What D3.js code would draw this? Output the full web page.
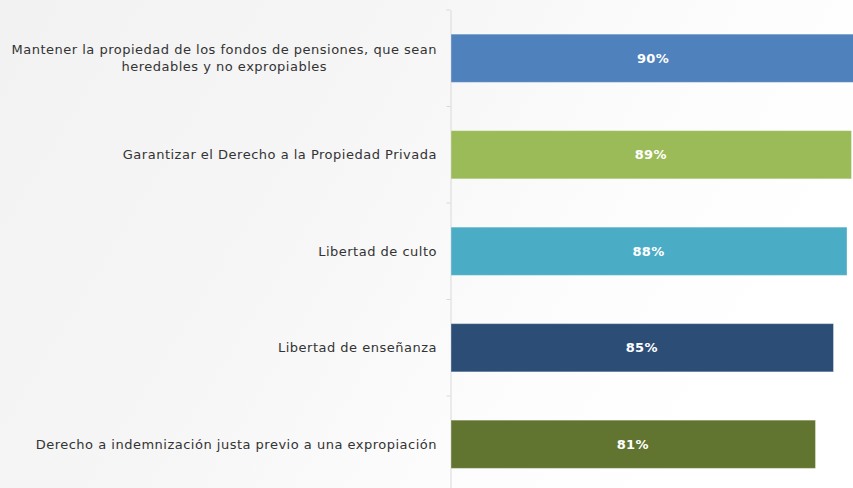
<!DOCTYPE html>
<html>
<head>
<meta charset="utf-8">
<script src="https://cdn.jsdelivr.net/npm/d3@7"></script>
<style>
html,body{margin:0;padding:0;background:#fff;overflow:hidden;}
svg{display:block;}
</style>
</head>
<body>
<svg id="chart" width="853" height="488"></svg>
<script>
const categories = [
  "Mantener la propiedad de los fondos de pensiones, que sean|heredables y no expropiables",
  "Garantizar el Derecho a la Propiedad Privada",
  "Libertad de culto",
  "Libertad de enseñanza",
  "Derecho a indemnización justa previo a una expropiación"
];
const values = [90, 89, 88, 85, 81];
const valueLabels = ["90%", "89%", "88%", "85%", "81%"];
const colors = ["#4f81bd", "#9bbb59", "#4bacc6", "#2c4e76", "#617531"];

const W = 853, H = 488;
const svg = d3.select("#chart");

// background gradient
const defs = svg.append("defs");
const grad = defs.append("linearGradient").attr("id","bg")
  .attr("x1","0").attr("y1","0").attr("x2","1").attr("y2","0.35");
grad.append("stop").attr("offset","0%").attr("stop-color","#f2f2f2");
grad.append("stop").attr("offset","45%").attr("stop-color","#f6f6f6");
grad.append("stop").attr("offset","75%").attr("stop-color","#fcfcfc");
grad.append("stop").attr("offset","100%").attr("stop-color","#ffffff");
svg.append("rect").attr("width",W).attr("height",H).attr("fill","url(#bg)");

const x0 = 450.5;
const x = d3.scaleLinear().domain([0, 100]).range([x0, x0 + 450]);
const y = d3.scaleBand().domain(categories).range([10, 492.5])
  .paddingInner(0.5).paddingOuter(0.25);

// axis
const axis = d3.axisLeft(y).tickSize(0).tickFormat("");
const ag = svg.append("g").attr("transform", `translate(${x0},0)`).call(axis);
ag.select(".domain").attr("stroke","#d9d9d9").attr("stroke-width",1);

// boundary ticks
const step = y.step();
const bounds = d3.range(categories.length + 1).map(i => y.range()[0] + i * step);
svg.append("g").selectAll("line").data(bounds).join("line")
  .attr("x1", x0 - 4).attr("x2", x0)
  .attr("y1", d => d).attr("y2", d => d)
  .attr("stroke","#d9d9d9").attr("stroke-width",1);

// bars
svg.append("g").selectAll("rect").data(values).join("rect")
  .attr("x", x(0) + 0.5)
  .attr("y", (d,i) => y(categories[i]))
  .attr("width", d => x(d) - x(0))
  .attr("height", y.bandwidth())
  .attr("fill", (d,i) => colors[i])
  .attr("stroke", "rgba(255,255,255,0.35)")
  .attr("stroke-width", 1);

// value labels
svg.append("g").selectAll("text").data(values).join("text")
  .attr("x", d => (x(0) + x(d)) / 2)
  .attr("y", (d,i) => y(categories[i]) + y.bandwidth()/2)
  .attr("dy", "0.35em")
  .attr("text-anchor","middle")
  .attr("font-family","'DejaVu Sans', sans-serif")
  .attr("font-weight","bold")
  .attr("font-size","13px")
  .attr("letter-spacing","0.3px")
  .attr("fill","#ffffff")
  .text((d,i) => valueLabels[i]);

// category labels
const labelRight = 437;
const lg = svg.append("g");
categories.forEach((c, i) => {
  const lines = c.split("|");
  const cy = y(c) + y.bandwidth()/2;
  const lh = 17;
  const t = lg.append("text")
    .attr("font-family","'DejaVu Sans', sans-serif")
    .attr("font-size","13px")
    .attr("letter-spacing","0.5px")
    .attr("fill","#333333");
  lines.forEach((ln, j) => {
    t.append("tspan").attr("y", cy + (j - (lines.length-1)/2) * lh).attr("dy","0.35em").text(ln);
  });
  const spans = t.selectAll("tspan").nodes();
  const widths = spans.map(s => s.getComputedTextLength());
  const maxW = d3.max(widths);
  const center = labelRight - maxW / 2;
  spans.forEach(s => d3.select(s).attr("x", center).attr("text-anchor","middle"));
});
</script>
</body>
</html>
